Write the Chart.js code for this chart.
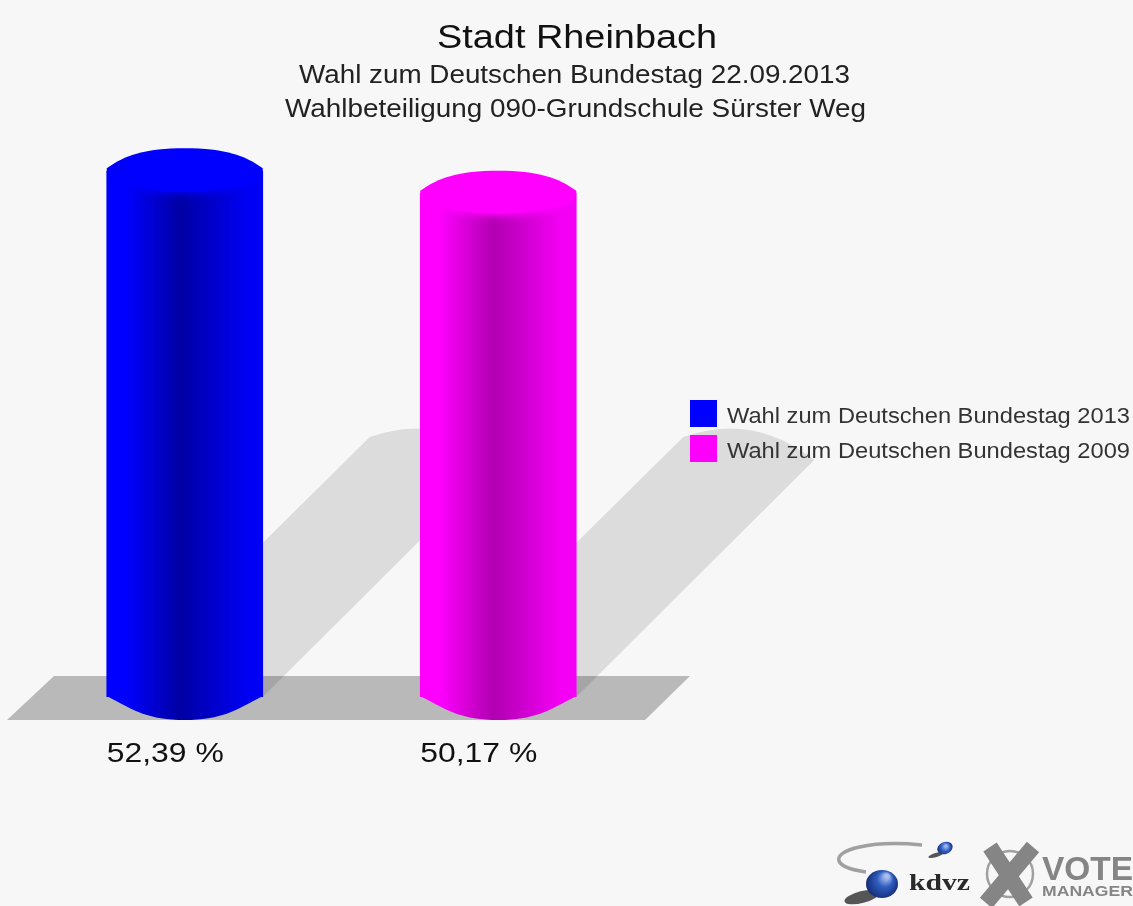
<!DOCTYPE html>
<html lang="de">
<head>
<meta charset="utf-8">
<title>Stadt Rheinbach</title>
<script src="https://cdn.jsdelivr.net/npm/chart.js@4"></script>
<style>
    html, body { margin: 0; padding: 0; background: #f7f7f7; }
    #wrap { width: 1133px; height: 906px; }
    canvas { display: block; filter: blur(0.7px); }
</style>
</head>
<body>
<div id="wrap"><canvas id="myChart" width="1133" height="906"></canvas></div>
<script>
// Data
const categorias = ['Wahl zum Deutschen Bundestag 2013', 'Wahl zum Deutschen Bundestag 2009'];
const valores = [52.39, 50.17];
const rotulosValores = ['52,39 %', '50,17 %'];
const titulo = 'Stadt Rheinbach';
const subtitulos = ['Wahl zum Deutschen Bundestag 22.09.2013', 'Wahlbeteiligung 090-Grundschule Sürster Weg'];

const coresBase = ['#0000ff', '#ff00ff'];
const coresEscuras = ['#0000a4', '#b000b0'];
const coresDireita = ['#0000f4', '#f400f4'];

const FONTE = '"Liberation Sans", Arial, sans-serif';
const RAIO_ELIPSE = 23;

// The reference is stretched sideways, so the text is scaled to the measured width
function textoLargura(ctx, texto, x, y, fonte, largura, cor) {
    ctx.save();
    ctx.font = fonte;
    ctx.fillStyle = cor;
    ctx.textAlign = 'left';
    ctx.textBaseline = 'alphabetic';
    const medida = ctx.measureText(texto).width;
    ctx.translate(x, y);
    ctx.scale(largura / medida, 1);
    ctx.fillText(texto, 0, 0);
    ctx.restore();
}

function gradienteBarra(ctx, esquerda, direita, i) {
    const g = ctx.createLinearGradient(esquerda, 0, direita, 0);
    g.addColorStop(0, coresBase[i]);
    g.addColorStop(0.12, coresBase[i]);
    g.addColorStop(0.47, coresEscuras[i]);
    g.addColorStop(0.9, coresDireita[i]);
    g.addColorStop(1, coresDireita[i]);
    return g;
}

function caminhoTampa(ctx, barra, meia) {
    const esquerda = barra.x - meia;
    const direita = barra.x + meia;
    ctx.beginPath();
    ctx.moveTo(esquerda, barra.y - 3);
    ctx.bezierCurveTo(esquerda + 18, barra.y - 16, barra.x - 40, barra.y - RAIO_ELIPSE, barra.x, barra.y - RAIO_ELIPSE);
    ctx.bezierCurveTo(barra.x + 40, barra.y - RAIO_ELIPSE, direita - 18, barra.y - 16, direita, barra.y - 3);
    ctx.lineTo(direita, barra.y);
    ctx.ellipse(barra.x, barra.y, meia, RAIO_ELIPSE - 3, 0, 0, Math.PI);
    ctx.closePath();
}

const cilindros = {
    id: 'cilindros',
    beforeDatasetsDraw(chart) {
        const ctx = chart.ctx;
        const base = chart.scales.y.getPixelForValue(0);
        const barras = chart.getDatasetMeta(0).data;

        // floor
        ctx.save();
        ctx.fillStyle = 'rgba(0,0,0,0.25)';
        ctx.beginPath();
        ctx.moveTo(54, base - 21);
        ctx.lineTo(690, base - 21);
        ctx.lineTo(645, base + 23);
        ctx.lineTo(7, base + 23);
        ctx.closePath();
        ctx.fill();

        // cast shadows
        ctx.fillStyle = 'rgba(0,0,0,0.105)';
        barras.forEach(barra => {
            const meia = barra.width / 2;
            ctx.beginPath();
            ctx.moveTo(barra.x - meia, base);
            ctx.lineTo(barra.x + 185, base - 260);
            ctx.quadraticCurveTo(barra.x + 255, base - 285, barra.x + 316, base - 237);
            ctx.lineTo(barra.x + meia, base);
            ctx.closePath();
            ctx.fill();
        });
        ctx.restore();
    },
    afterDatasetsDraw(chart) {
        const ctx = chart.ctx;
        const base = chart.scales.y.getPixelForValue(0);
        chart.getDatasetMeta(0).data.forEach((barra, i) => {
            const meia = barra.width / 2;
            const esquerda = barra.x - meia;
            const direita = barra.x + meia;

            // bottom of the cylinder, the arc meets the sides at a corner
            ctx.fillStyle = gradienteBarra(ctx, esquerda, direita, i);
            ctx.beginPath();
            ctx.moveTo(esquerda, base - 1);
            ctx.bezierCurveTo(esquerda + 28, base + 14, barra.x - 36, base + RAIO_ELIPSE, barra.x, base + RAIO_ELIPSE);
            ctx.bezierCurveTo(barra.x + 36, base + RAIO_ELIPSE, direita - 28, base + 14, direita, base - 1);
            ctx.closePath();
            ctx.fill();

            // soft lower edge of the lid, kept inside the bar
            ctx.save();
            ctx.beginPath();
            ctx.rect(esquerda, barra.y, meia * 2, 60);
            ctx.clip();
            ctx.shadowColor = coresBase[i];
            ctx.shadowBlur = 9;
            ctx.shadowOffsetY = 2;
            ctx.fillStyle = coresBase[i];
            caminhoTampa(ctx, barra, meia);
            ctx.fill();
            ctx.restore();

            // lid
            ctx.fillStyle = coresBase[i];
            caminhoTampa(ctx, barra, meia);
            ctx.fill();

            textoLargura(ctx, rotulosValores[i], esquerda, 762, '28px ' + FONTE, 117, '#111111');
        });
    },
    afterDraw(chart) {
        const ctx = chart.ctx;

        textoLargura(ctx, titulo, 437, 48, '33px ' + FONTE, 280, '#111111');
        textoLargura(ctx, subtitulos[0], 299, 83, '26px ' + FONTE, 551, '#222222');
        textoLargura(ctx, subtitulos[1], 285, 117, '26px ' + FONTE, 581, '#222222');

        // legend
        categorias.forEach((nome, i) => {
            const y = 400 + i * 35;
            ctx.fillStyle = coresBase[i];
            ctx.fillRect(690, y, 27, 27);
            textoLargura(ctx, nome, 727, y + 23, '22px ' + FONTE, 403, '#333333');
        });

        desenharLogo(ctx);
    }
};

function desenharLogo(ctx) {
    ctx.save();

    // swoosh
    ctx.strokeStyle = '#a0a0a0';
    ctx.lineWidth = 3.5;
    ctx.beginPath();
    ctx.moveTo(922, 845);
    ctx.bezierCurveTo(870, 840, 835, 850, 839, 861);
    ctx.bezierCurveTo(841, 866, 852, 870, 866, 872);
    ctx.stroke();

    // spheres
    ctx.fillStyle = 'rgba(0,0,0,0.65)';
    ctx.beginPath();
    ctx.ellipse(862, 897, 18, 6, -0.25, 0, Math.PI * 2);
    ctx.ellipse(936, 855, 8, 2, -0.3, 0, Math.PI * 2);
    ctx.fill();
    const grande = ctx.createRadialGradient(887, 876, 2, 882, 884, 17);
    grande.addColorStop(0, '#a8bff0');
    grande.addColorStop(0.4, '#2f5cc0');
    grande.addColorStop(1, '#10286e');
    ctx.fillStyle = grande;
    ctx.beginPath();
    ctx.ellipse(882, 884, 16, 14, 0, 0, Math.PI * 2);
    ctx.fill();
    const pequena = ctx.createRadialGradient(946, 846, 1, 945, 848, 8);
    pequena.addColorStop(0, '#9db6ee');
    pequena.addColorStop(0.5, '#2f5cc0');
    pequena.addColorStop(1, '#14307a');
    ctx.fillStyle = pequena;
    ctx.beginPath();
    ctx.ellipse(945, 848, 8, 6, -0.4, 0, Math.PI * 2);
    ctx.fill();

    textoLargura(ctx, 'kdvz', 909, 890, 'bold 24px "Liberation Serif", serif', 61, '#2a2a2a');

    // ballot cross
    ctx.strokeStyle = '#a0a0a0';
    ctx.lineWidth = 2.5;
    ctx.beginPath();
    ctx.arc(1010, 874, 23, 0, Math.PI * 2);
    ctx.stroke();
    ctx.strokeStyle = '#858585';
    ctx.lineWidth = 16;
    ctx.beginPath();
    ctx.moveTo(990, 847);
    ctx.lineTo(1026, 902);
    ctx.moveTo(1033, 847);
    ctx.lineTo(986, 903);
    ctx.stroke();

    textoLargura(ctx, 'VOTE', 1042, 880, 'bold 34px ' + FONTE, 91, '#858585');
    textoLargura(ctx, 'MANAGER', 1042, 896, 'bold 15px ' + FONTE, 91, '#858585');
    ctx.restore();
}

new Chart(document.getElementById('myChart'), {
    type: 'bar',
    data: {
        labels: categorias,
        datasets: [{
            data: valores,
            barThickness: 156,
            borderWidth: 0,
            backgroundColor(contexto) {
                const area = contexto.chart.chartArea;
                if (!area) return coresBase[contexto.dataIndex];
                const eixo = contexto.chart.scales.x.getPixelForValue(contexto.dataIndex);
                return gradienteBarra(contexto.chart.ctx, eixo - 78, eixo + 78, contexto.dataIndex);
            }
        }]
    },
    options: {
        responsive: false,
        animation: false,
        layout: { padding: { left: 28, right: 478, top: 95, bottom: 209 } },
        scales: {
            x: { display: false },
            y: { display: false, min: 0, max: 60 }
        },
        plugins: {
            legend: { display: false },
            tooltip: { enabled: false }
        }
    },
    plugins: [cilindros]
});
</script>
</body>
</html>
